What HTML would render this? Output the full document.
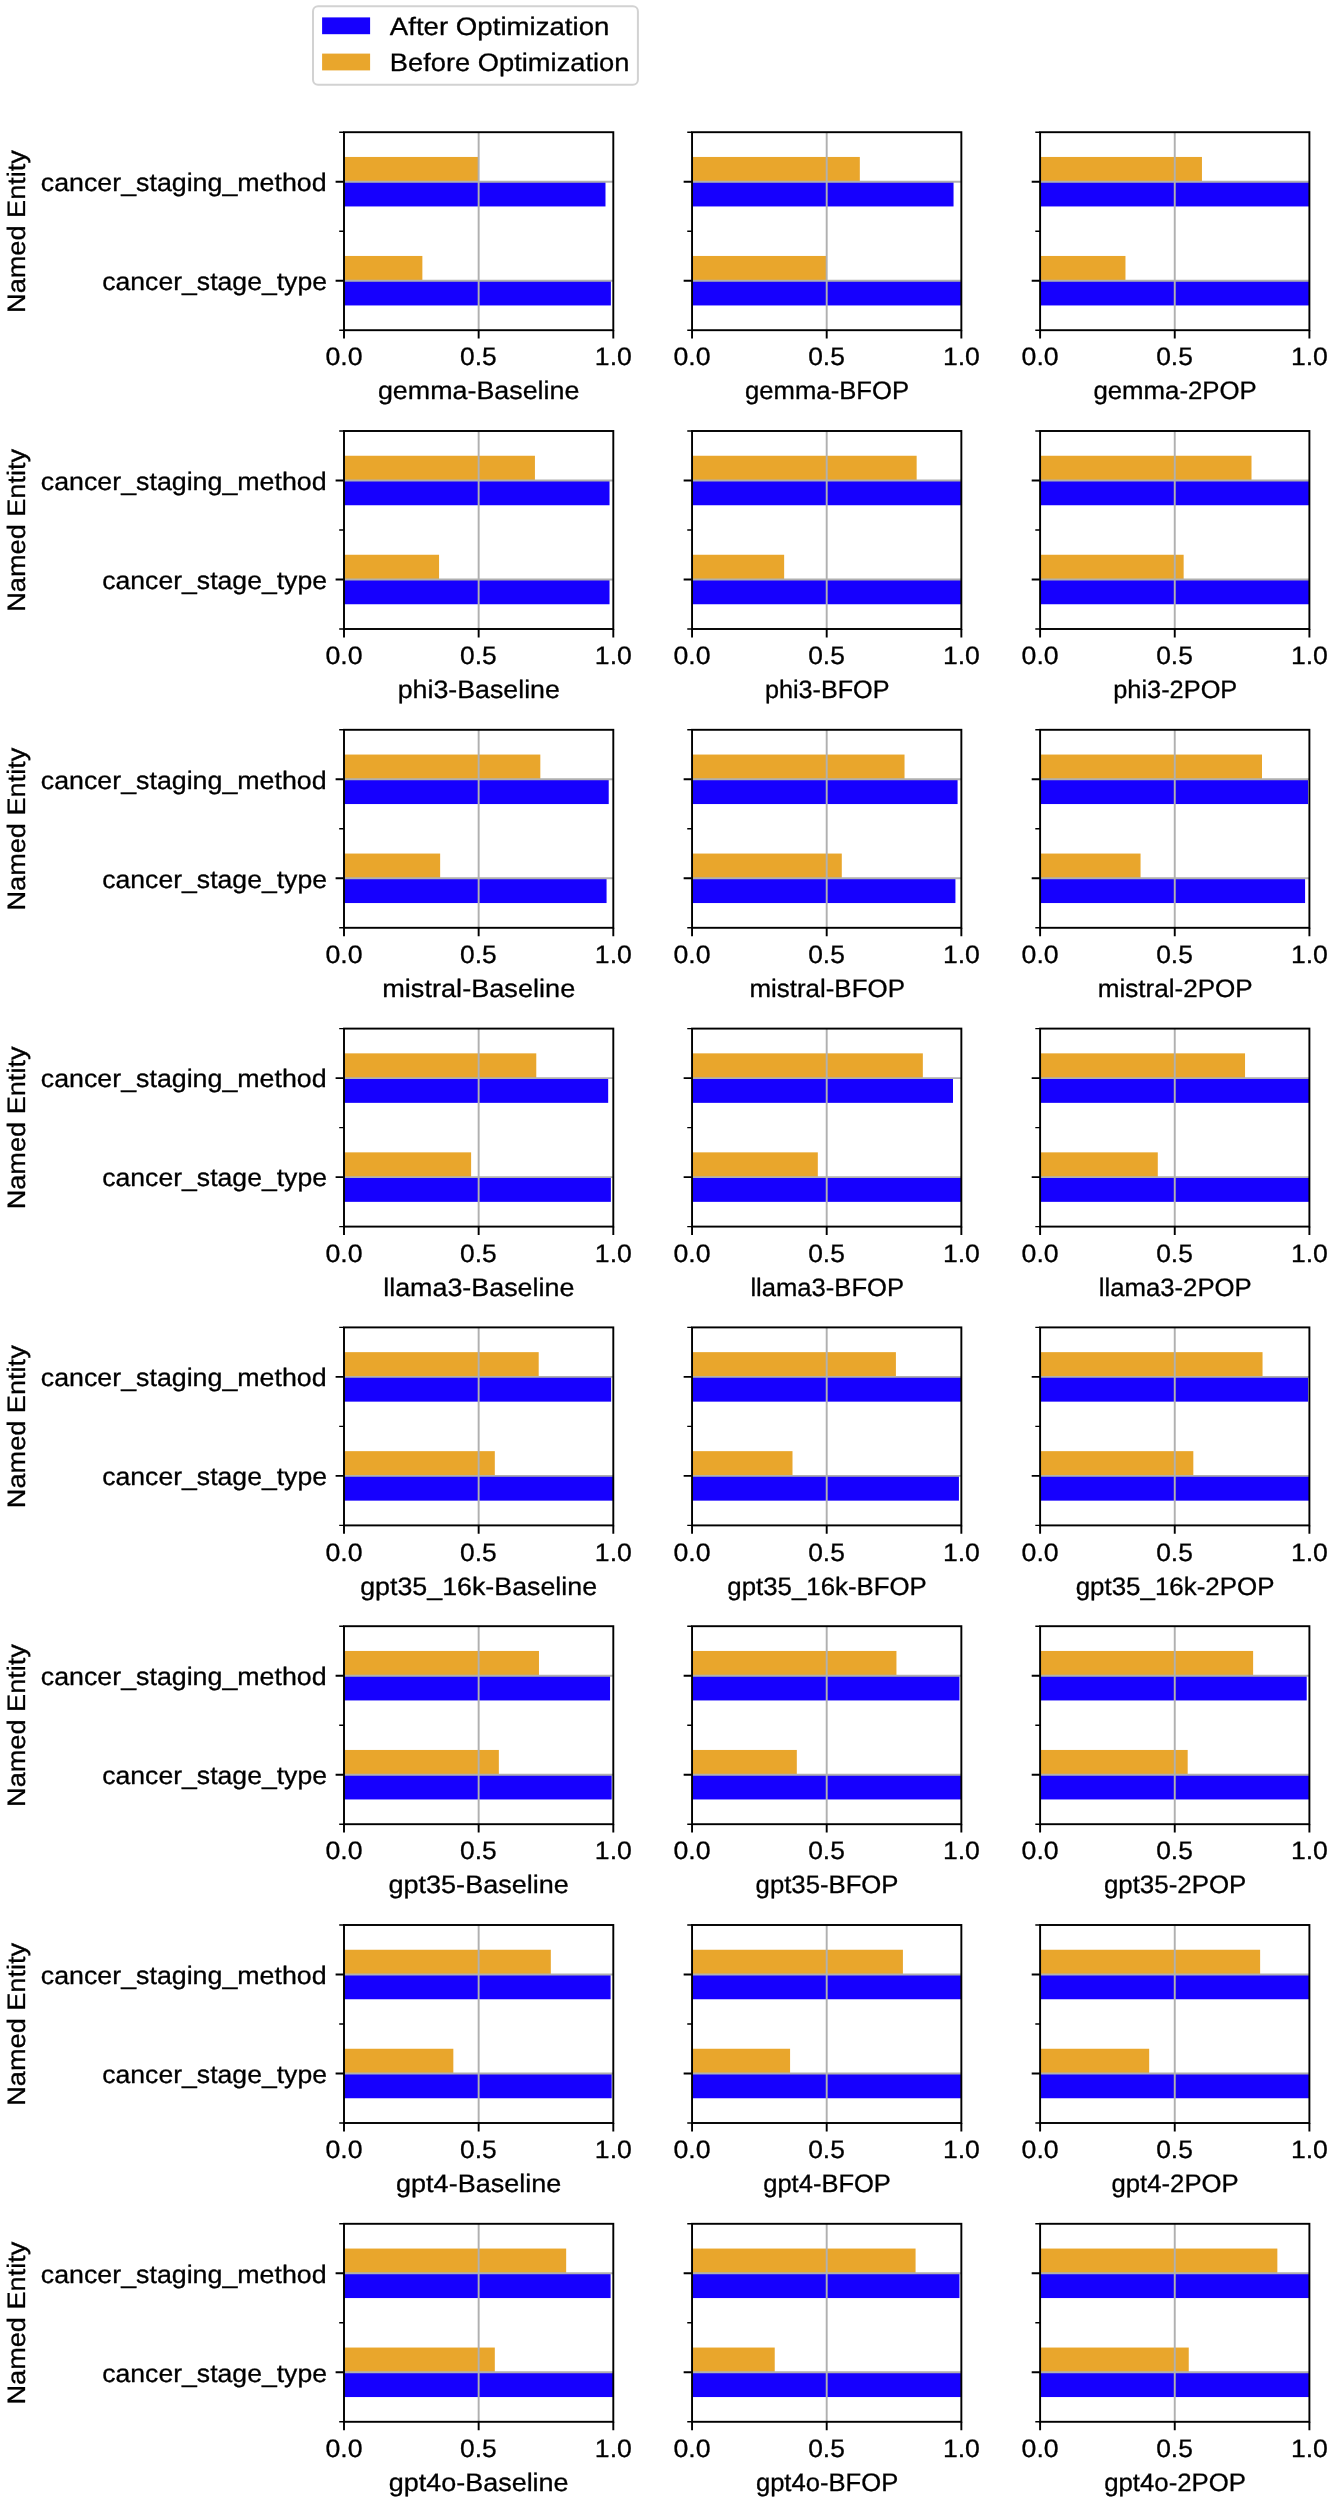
<!DOCTYPE html>
<html><head><meta charset="utf-8"><title>chart</title>
<style>
html,body{margin:0;padding:0;background:#fff;}
body{width:1333px;height:2500px;overflow:hidden;}
svg{display:block;will-change:transform;}
text{font-family:"Liberation Sans",sans-serif;font-size:25.2px;fill:#000;stroke:#000;stroke-width:0.3px;stroke-linejoin:round;text-rendering:geometricPrecision;}
</style></head>
<body>
<svg width="1333" height="2500" viewBox="0 0 1333 2500">
<rect width="1333" height="2500" fill="#fff"/>
<rect x="313.0" y="6.2" width="324.9" height="78.5" rx="5" ry="5" fill="#fff" stroke="#d2d2d2" stroke-width="2.0"/>
<rect x="322.1" y="17.4" width="48.0" height="16.8" fill="#1600fe"/>
<rect x="322.1" y="53.6" width="48.0" height="16.8" fill="#e9a62c"/>
<rect x="344.00" y="156.95" width="134.65" height="24.75" fill="#e9a62c"/>
<rect x="344.00" y="181.70" width="261.49" height="24.75" fill="#1600fe"/>
<rect x="344.00" y="255.95" width="78.37" height="24.75" fill="#e9a62c"/>
<rect x="344.00" y="280.70" width="266.88" height="24.75" fill="#1600fe"/>
<path d="M478.65 132.20V330.20M344.00 181.70H613.30M344.00 280.70H613.30" stroke="#b0b0b0" stroke-width="1.92" fill="none"/>
<path d="M344.00 330.20v8.4M478.65 330.20v8.4M613.30 330.20v8.4M344.00 181.70h-8.4M344.00 280.70h-8.4" stroke="#000" stroke-width="1.92" fill="none" stroke-linecap="butt"/>
<path d="M344.00 132.20h-4.8M344.00 231.20h-4.8M344.00 330.20h-4.8" stroke="#000" stroke-width="1.44" fill="none"/>
<rect x="344.00" y="132.20" width="269.30" height="198.00" fill="none" stroke="#000" stroke-width="1.92" stroke-linejoin="miter"/>
<rect x="692.05" y="156.95" width="167.77" height="24.75" fill="#e9a62c"/>
<rect x="692.05" y="181.70" width="261.49" height="24.75" fill="#1600fe"/>
<rect x="692.05" y="255.95" width="134.65" height="24.75" fill="#e9a62c"/>
<rect x="692.05" y="280.70" width="269.30" height="24.75" fill="#1600fe"/>
<path d="M826.70 132.20V330.20M692.05 181.70H961.35M692.05 280.70H961.35" stroke="#b0b0b0" stroke-width="1.92" fill="none"/>
<path d="M692.05 330.20v8.4M826.70 330.20v8.4M961.35 330.20v8.4M692.05 181.70h-8.4M692.05 280.70h-8.4" stroke="#000" stroke-width="1.92" fill="none" stroke-linecap="butt"/>
<path d="M692.05 132.20h-4.8M692.05 231.20h-4.8M692.05 330.20h-4.8" stroke="#000" stroke-width="1.44" fill="none"/>
<rect x="692.05" y="132.20" width="269.30" height="198.00" fill="none" stroke="#000" stroke-width="1.92" stroke-linejoin="miter"/>
<rect x="1040.10" y="156.95" width="161.85" height="24.75" fill="#e9a62c"/>
<rect x="1040.10" y="181.70" width="269.30" height="24.75" fill="#1600fe"/>
<rect x="1040.10" y="255.95" width="85.37" height="24.75" fill="#e9a62c"/>
<rect x="1040.10" y="280.70" width="269.30" height="24.75" fill="#1600fe"/>
<path d="M1174.75 132.20V330.20M1040.10 181.70H1309.40M1040.10 280.70H1309.40" stroke="#b0b0b0" stroke-width="1.92" fill="none"/>
<path d="M1040.10 330.20v8.4M1174.75 330.20v8.4M1309.40 330.20v8.4M1040.10 181.70h-8.4M1040.10 280.70h-8.4" stroke="#000" stroke-width="1.92" fill="none" stroke-linecap="butt"/>
<path d="M1040.10 132.20h-4.8M1040.10 231.20h-4.8M1040.10 330.20h-4.8" stroke="#000" stroke-width="1.44" fill="none"/>
<rect x="1040.10" y="132.20" width="269.30" height="198.00" fill="none" stroke="#000" stroke-width="1.92" stroke-linejoin="miter"/>
<rect x="344.00" y="455.75" width="190.93" height="24.75" fill="#e9a62c"/>
<rect x="344.00" y="480.50" width="265.53" height="24.75" fill="#1600fe"/>
<rect x="344.00" y="554.75" width="95.06" height="24.75" fill="#e9a62c"/>
<rect x="344.00" y="579.50" width="265.53" height="24.75" fill="#1600fe"/>
<path d="M478.65 431.00V629.00M344.00 480.50H613.30M344.00 579.50H613.30" stroke="#b0b0b0" stroke-width="1.92" fill="none"/>
<path d="M344.00 629.00v8.4M478.65 629.00v8.4M613.30 629.00v8.4M344.00 480.50h-8.4M344.00 579.50h-8.4" stroke="#000" stroke-width="1.92" fill="none" stroke-linecap="butt"/>
<path d="M344.00 431.00h-4.8M344.00 530.00h-4.8M344.00 629.00h-4.8" stroke="#000" stroke-width="1.44" fill="none"/>
<rect x="344.00" y="431.00" width="269.30" height="198.00" fill="none" stroke="#000" stroke-width="1.92" stroke-linejoin="miter"/>
<rect x="692.05" y="455.75" width="224.60" height="24.75" fill="#e9a62c"/>
<rect x="692.05" y="480.50" width="269.30" height="24.75" fill="#1600fe"/>
<rect x="692.05" y="554.75" width="92.10" height="24.75" fill="#e9a62c"/>
<rect x="692.05" y="579.50" width="269.30" height="24.75" fill="#1600fe"/>
<path d="M826.70 431.00V629.00M692.05 480.50H961.35M692.05 579.50H961.35" stroke="#b0b0b0" stroke-width="1.92" fill="none"/>
<path d="M692.05 629.00v8.4M826.70 629.00v8.4M961.35 629.00v8.4M692.05 480.50h-8.4M692.05 579.50h-8.4" stroke="#000" stroke-width="1.92" fill="none" stroke-linecap="butt"/>
<path d="M692.05 431.00h-4.8M692.05 530.00h-4.8M692.05 629.00h-4.8" stroke="#000" stroke-width="1.44" fill="none"/>
<rect x="692.05" y="431.00" width="269.30" height="198.00" fill="none" stroke="#000" stroke-width="1.92" stroke-linejoin="miter"/>
<rect x="1040.10" y="455.75" width="211.40" height="24.75" fill="#e9a62c"/>
<rect x="1040.10" y="480.50" width="269.30" height="24.75" fill="#1600fe"/>
<rect x="1040.10" y="554.75" width="143.54" height="24.75" fill="#e9a62c"/>
<rect x="1040.10" y="579.50" width="269.30" height="24.75" fill="#1600fe"/>
<path d="M1174.75 431.00V629.00M1040.10 480.50H1309.40M1040.10 579.50H1309.40" stroke="#b0b0b0" stroke-width="1.92" fill="none"/>
<path d="M1040.10 629.00v8.4M1174.75 629.00v8.4M1309.40 629.00v8.4M1040.10 480.50h-8.4M1040.10 579.50h-8.4" stroke="#000" stroke-width="1.92" fill="none" stroke-linecap="butt"/>
<path d="M1040.10 431.00h-4.8M1040.10 530.00h-4.8M1040.10 629.00h-4.8" stroke="#000" stroke-width="1.44" fill="none"/>
<rect x="1040.10" y="431.00" width="269.30" height="198.00" fill="none" stroke="#000" stroke-width="1.92" stroke-linejoin="miter"/>
<rect x="344.00" y="754.55" width="196.32" height="24.75" fill="#e9a62c"/>
<rect x="344.00" y="779.30" width="264.72" height="24.75" fill="#1600fe"/>
<rect x="344.00" y="853.55" width="96.14" height="24.75" fill="#e9a62c"/>
<rect x="344.00" y="878.30" width="262.57" height="24.75" fill="#1600fe"/>
<path d="M478.65 729.80V927.80M344.00 779.30H613.30M344.00 878.30H613.30" stroke="#b0b0b0" stroke-width="1.92" fill="none"/>
<path d="M344.00 927.80v8.4M478.65 927.80v8.4M613.30 927.80v8.4M344.00 779.30h-8.4M344.00 878.30h-8.4" stroke="#000" stroke-width="1.92" fill="none" stroke-linecap="butt"/>
<path d="M344.00 729.80h-4.8M344.00 828.80h-4.8M344.00 927.80h-4.8" stroke="#000" stroke-width="1.44" fill="none"/>
<rect x="344.00" y="729.80" width="269.30" height="198.00" fill="none" stroke="#000" stroke-width="1.92" stroke-linejoin="miter"/>
<rect x="692.05" y="754.55" width="212.48" height="24.75" fill="#e9a62c"/>
<rect x="692.05" y="779.30" width="265.53" height="24.75" fill="#1600fe"/>
<rect x="692.05" y="853.55" width="149.73" height="24.75" fill="#e9a62c"/>
<rect x="692.05" y="878.30" width="263.38" height="24.75" fill="#1600fe"/>
<path d="M826.70 729.80V927.80M692.05 779.30H961.35M692.05 878.30H961.35" stroke="#b0b0b0" stroke-width="1.92" fill="none"/>
<path d="M692.05 927.80v8.4M826.70 927.80v8.4M961.35 927.80v8.4M692.05 779.30h-8.4M692.05 878.30h-8.4" stroke="#000" stroke-width="1.92" fill="none" stroke-linecap="butt"/>
<path d="M692.05 729.80h-4.8M692.05 828.80h-4.8M692.05 927.80h-4.8" stroke="#000" stroke-width="1.44" fill="none"/>
<rect x="692.05" y="729.80" width="269.30" height="198.00" fill="none" stroke="#000" stroke-width="1.92" stroke-linejoin="miter"/>
<rect x="1040.10" y="754.55" width="221.90" height="24.75" fill="#e9a62c"/>
<rect x="1040.10" y="779.30" width="267.95" height="24.75" fill="#1600fe"/>
<rect x="1040.10" y="853.55" width="100.45" height="24.75" fill="#e9a62c"/>
<rect x="1040.10" y="878.30" width="264.99" height="24.75" fill="#1600fe"/>
<path d="M1174.75 729.80V927.80M1040.10 779.30H1309.40M1040.10 878.30H1309.40" stroke="#b0b0b0" stroke-width="1.92" fill="none"/>
<path d="M1040.10 927.80v8.4M1174.75 927.80v8.4M1309.40 927.80v8.4M1040.10 779.30h-8.4M1040.10 878.30h-8.4" stroke="#000" stroke-width="1.92" fill="none" stroke-linecap="butt"/>
<path d="M1040.10 729.80h-4.8M1040.10 828.80h-4.8M1040.10 927.80h-4.8" stroke="#000" stroke-width="1.44" fill="none"/>
<rect x="1040.10" y="729.80" width="269.30" height="198.00" fill="none" stroke="#000" stroke-width="1.92" stroke-linejoin="miter"/>
<rect x="344.00" y="1053.35" width="192.28" height="24.75" fill="#e9a62c"/>
<rect x="344.00" y="1078.10" width="264.18" height="24.75" fill="#1600fe"/>
<rect x="344.00" y="1152.35" width="127.11" height="24.75" fill="#e9a62c"/>
<rect x="344.00" y="1177.10" width="266.88" height="24.75" fill="#1600fe"/>
<path d="M478.65 1028.60V1226.60M344.00 1078.10H613.30M344.00 1177.10H613.30" stroke="#b0b0b0" stroke-width="1.92" fill="none"/>
<path d="M344.00 1226.60v8.4M478.65 1226.60v8.4M613.30 1226.60v8.4M344.00 1078.10h-8.4M344.00 1177.10h-8.4" stroke="#000" stroke-width="1.92" fill="none" stroke-linecap="butt"/>
<path d="M344.00 1028.60h-4.8M344.00 1127.60h-4.8M344.00 1226.60h-4.8" stroke="#000" stroke-width="1.44" fill="none"/>
<rect x="344.00" y="1028.60" width="269.30" height="198.00" fill="none" stroke="#000" stroke-width="1.92" stroke-linejoin="miter"/>
<rect x="692.05" y="1053.35" width="230.79" height="24.75" fill="#e9a62c"/>
<rect x="692.05" y="1078.10" width="260.95" height="24.75" fill="#1600fe"/>
<rect x="692.05" y="1152.35" width="125.76" height="24.75" fill="#e9a62c"/>
<rect x="692.05" y="1177.10" width="269.30" height="24.75" fill="#1600fe"/>
<path d="M826.70 1028.60V1226.60M692.05 1078.10H961.35M692.05 1177.10H961.35" stroke="#b0b0b0" stroke-width="1.92" fill="none"/>
<path d="M692.05 1226.60v8.4M826.70 1226.60v8.4M961.35 1226.60v8.4M692.05 1078.10h-8.4M692.05 1177.10h-8.4" stroke="#000" stroke-width="1.92" fill="none" stroke-linecap="butt"/>
<path d="M692.05 1028.60h-4.8M692.05 1127.60h-4.8M692.05 1226.60h-4.8" stroke="#000" stroke-width="1.44" fill="none"/>
<rect x="692.05" y="1028.60" width="269.30" height="198.00" fill="none" stroke="#000" stroke-width="1.92" stroke-linejoin="miter"/>
<rect x="1040.10" y="1053.35" width="204.94" height="24.75" fill="#e9a62c"/>
<rect x="1040.10" y="1078.10" width="269.30" height="24.75" fill="#1600fe"/>
<rect x="1040.10" y="1152.35" width="117.68" height="24.75" fill="#e9a62c"/>
<rect x="1040.10" y="1177.10" width="269.30" height="24.75" fill="#1600fe"/>
<path d="M1174.75 1028.60V1226.60M1040.10 1078.10H1309.40M1040.10 1177.10H1309.40" stroke="#b0b0b0" stroke-width="1.92" fill="none"/>
<path d="M1040.10 1226.60v8.4M1174.75 1226.60v8.4M1309.40 1226.60v8.4M1040.10 1078.10h-8.4M1040.10 1177.10h-8.4" stroke="#000" stroke-width="1.92" fill="none" stroke-linecap="butt"/>
<path d="M1040.10 1028.60h-4.8M1040.10 1127.60h-4.8M1040.10 1226.60h-4.8" stroke="#000" stroke-width="1.44" fill="none"/>
<rect x="1040.10" y="1028.60" width="269.30" height="198.00" fill="none" stroke="#000" stroke-width="1.92" stroke-linejoin="miter"/>
<rect x="344.00" y="1352.15" width="194.70" height="24.75" fill="#e9a62c"/>
<rect x="344.00" y="1376.90" width="267.15" height="24.75" fill="#1600fe"/>
<rect x="344.00" y="1451.15" width="150.81" height="24.75" fill="#e9a62c"/>
<rect x="344.00" y="1475.90" width="269.30" height="24.75" fill="#1600fe"/>
<path d="M478.65 1327.40V1525.40M344.00 1376.90H613.30M344.00 1475.90H613.30" stroke="#b0b0b0" stroke-width="1.92" fill="none"/>
<path d="M344.00 1525.40v8.4M478.65 1525.40v8.4M613.30 1525.40v8.4M344.00 1376.90h-8.4M344.00 1475.90h-8.4" stroke="#000" stroke-width="1.92" fill="none" stroke-linecap="butt"/>
<path d="M344.00 1327.40h-4.8M344.00 1426.40h-4.8M344.00 1525.40h-4.8" stroke="#000" stroke-width="1.44" fill="none"/>
<rect x="344.00" y="1327.40" width="269.30" height="198.00" fill="none" stroke="#000" stroke-width="1.92" stroke-linejoin="miter"/>
<rect x="692.05" y="1352.15" width="203.86" height="24.75" fill="#e9a62c"/>
<rect x="692.05" y="1376.90" width="269.30" height="24.75" fill="#1600fe"/>
<rect x="692.05" y="1451.15" width="100.45" height="24.75" fill="#e9a62c"/>
<rect x="692.05" y="1475.90" width="266.88" height="24.75" fill="#1600fe"/>
<path d="M826.70 1327.40V1525.40M692.05 1376.90H961.35M692.05 1475.90H961.35" stroke="#b0b0b0" stroke-width="1.92" fill="none"/>
<path d="M692.05 1525.40v8.4M826.70 1525.40v8.4M961.35 1525.40v8.4M692.05 1376.90h-8.4M692.05 1475.90h-8.4" stroke="#000" stroke-width="1.92" fill="none" stroke-linecap="butt"/>
<path d="M692.05 1327.40h-4.8M692.05 1426.40h-4.8M692.05 1525.40h-4.8" stroke="#000" stroke-width="1.44" fill="none"/>
<rect x="692.05" y="1327.40" width="269.30" height="198.00" fill="none" stroke="#000" stroke-width="1.92" stroke-linejoin="miter"/>
<rect x="1040.10" y="1352.15" width="222.44" height="24.75" fill="#e9a62c"/>
<rect x="1040.10" y="1376.90" width="267.95" height="24.75" fill="#1600fe"/>
<rect x="1040.10" y="1451.15" width="153.23" height="24.75" fill="#e9a62c"/>
<rect x="1040.10" y="1475.90" width="269.30" height="24.75" fill="#1600fe"/>
<path d="M1174.75 1327.40V1525.40M1040.10 1376.90H1309.40M1040.10 1475.90H1309.40" stroke="#b0b0b0" stroke-width="1.92" fill="none"/>
<path d="M1040.10 1525.40v8.4M1174.75 1525.40v8.4M1309.40 1525.40v8.4M1040.10 1376.90h-8.4M1040.10 1475.90h-8.4" stroke="#000" stroke-width="1.92" fill="none" stroke-linecap="butt"/>
<path d="M1040.10 1327.40h-4.8M1040.10 1426.40h-4.8M1040.10 1525.40h-4.8" stroke="#000" stroke-width="1.44" fill="none"/>
<rect x="1040.10" y="1327.40" width="269.30" height="198.00" fill="none" stroke="#000" stroke-width="1.92" stroke-linejoin="miter"/>
<rect x="344.00" y="1650.95" width="194.97" height="24.75" fill="#e9a62c"/>
<rect x="344.00" y="1675.70" width="266.07" height="24.75" fill="#1600fe"/>
<rect x="344.00" y="1749.95" width="154.85" height="24.75" fill="#e9a62c"/>
<rect x="344.00" y="1774.70" width="267.68" height="24.75" fill="#1600fe"/>
<path d="M478.65 1626.20V1824.20M344.00 1675.70H613.30M344.00 1774.70H613.30" stroke="#b0b0b0" stroke-width="1.92" fill="none"/>
<path d="M344.00 1824.20v8.4M478.65 1824.20v8.4M613.30 1824.20v8.4M344.00 1675.70h-8.4M344.00 1774.70h-8.4" stroke="#000" stroke-width="1.92" fill="none" stroke-linecap="butt"/>
<path d="M344.00 1626.20h-4.8M344.00 1725.20h-4.8M344.00 1824.20h-4.8" stroke="#000" stroke-width="1.44" fill="none"/>
<rect x="344.00" y="1626.20" width="269.30" height="198.00" fill="none" stroke="#000" stroke-width="1.92" stroke-linejoin="miter"/>
<rect x="692.05" y="1650.95" width="204.40" height="24.75" fill="#e9a62c"/>
<rect x="692.05" y="1675.70" width="267.41" height="24.75" fill="#1600fe"/>
<rect x="692.05" y="1749.95" width="104.76" height="24.75" fill="#e9a62c"/>
<rect x="692.05" y="1774.70" width="269.30" height="24.75" fill="#1600fe"/>
<path d="M826.70 1626.20V1824.20M692.05 1675.70H961.35M692.05 1774.70H961.35" stroke="#b0b0b0" stroke-width="1.92" fill="none"/>
<path d="M692.05 1824.20v8.4M826.70 1824.20v8.4M961.35 1824.20v8.4M692.05 1675.70h-8.4M692.05 1774.70h-8.4" stroke="#000" stroke-width="1.92" fill="none" stroke-linecap="butt"/>
<path d="M692.05 1626.20h-4.8M692.05 1725.20h-4.8M692.05 1824.20h-4.8" stroke="#000" stroke-width="1.44" fill="none"/>
<rect x="692.05" y="1626.20" width="269.30" height="198.00" fill="none" stroke="#000" stroke-width="1.92" stroke-linejoin="miter"/>
<rect x="1040.10" y="1650.95" width="213.02" height="24.75" fill="#e9a62c"/>
<rect x="1040.10" y="1675.70" width="266.61" height="24.75" fill="#1600fe"/>
<rect x="1040.10" y="1749.95" width="147.58" height="24.75" fill="#e9a62c"/>
<rect x="1040.10" y="1774.70" width="269.30" height="24.75" fill="#1600fe"/>
<path d="M1174.75 1626.20V1824.20M1040.10 1675.70H1309.40M1040.10 1774.70H1309.40" stroke="#b0b0b0" stroke-width="1.92" fill="none"/>
<path d="M1040.10 1824.20v8.4M1174.75 1824.20v8.4M1309.40 1824.20v8.4M1040.10 1675.70h-8.4M1040.10 1774.70h-8.4" stroke="#000" stroke-width="1.92" fill="none" stroke-linecap="butt"/>
<path d="M1040.10 1626.20h-4.8M1040.10 1725.20h-4.8M1040.10 1824.20h-4.8" stroke="#000" stroke-width="1.44" fill="none"/>
<rect x="1040.10" y="1626.20" width="269.30" height="198.00" fill="none" stroke="#000" stroke-width="1.92" stroke-linejoin="miter"/>
<rect x="344.00" y="1949.75" width="206.82" height="24.75" fill="#e9a62c"/>
<rect x="344.00" y="1974.50" width="266.61" height="24.75" fill="#1600fe"/>
<rect x="344.00" y="2048.75" width="109.34" height="24.75" fill="#e9a62c"/>
<rect x="344.00" y="2073.50" width="267.68" height="24.75" fill="#1600fe"/>
<path d="M478.65 1925.00V2123.00M344.00 1974.50H613.30M344.00 2073.50H613.30" stroke="#b0b0b0" stroke-width="1.92" fill="none"/>
<path d="M344.00 2123.00v8.4M478.65 2123.00v8.4M613.30 2123.00v8.4M344.00 1974.50h-8.4M344.00 2073.50h-8.4" stroke="#000" stroke-width="1.92" fill="none" stroke-linecap="butt"/>
<path d="M344.00 1925.00h-4.8M344.00 2024.00h-4.8M344.00 2123.00h-4.8" stroke="#000" stroke-width="1.44" fill="none"/>
<rect x="344.00" y="1925.00" width="269.30" height="198.00" fill="none" stroke="#000" stroke-width="1.92" stroke-linejoin="miter"/>
<rect x="692.05" y="1949.75" width="210.86" height="24.75" fill="#e9a62c"/>
<rect x="692.05" y="1974.50" width="269.30" height="24.75" fill="#1600fe"/>
<rect x="692.05" y="2048.75" width="98.03" height="24.75" fill="#e9a62c"/>
<rect x="692.05" y="2073.50" width="269.30" height="24.75" fill="#1600fe"/>
<path d="M826.70 1925.00V2123.00M692.05 1974.50H961.35M692.05 2073.50H961.35" stroke="#b0b0b0" stroke-width="1.92" fill="none"/>
<path d="M692.05 2123.00v8.4M826.70 2123.00v8.4M961.35 2123.00v8.4M692.05 1974.50h-8.4M692.05 2073.50h-8.4" stroke="#000" stroke-width="1.92" fill="none" stroke-linecap="butt"/>
<path d="M692.05 1925.00h-4.8M692.05 2024.00h-4.8M692.05 2123.00h-4.8" stroke="#000" stroke-width="1.44" fill="none"/>
<rect x="692.05" y="1925.00" width="269.30" height="198.00" fill="none" stroke="#000" stroke-width="1.92" stroke-linejoin="miter"/>
<rect x="1040.10" y="1949.75" width="220.02" height="24.75" fill="#e9a62c"/>
<rect x="1040.10" y="1974.50" width="269.30" height="24.75" fill="#1600fe"/>
<rect x="1040.10" y="2048.75" width="109.07" height="24.75" fill="#e9a62c"/>
<rect x="1040.10" y="2073.50" width="269.30" height="24.75" fill="#1600fe"/>
<path d="M1174.75 1925.00V2123.00M1040.10 1974.50H1309.40M1040.10 2073.50H1309.40" stroke="#b0b0b0" stroke-width="1.92" fill="none"/>
<path d="M1040.10 2123.00v8.4M1174.75 2123.00v8.4M1309.40 2123.00v8.4M1040.10 1974.50h-8.4M1040.10 2073.50h-8.4" stroke="#000" stroke-width="1.92" fill="none" stroke-linecap="butt"/>
<path d="M1040.10 1925.00h-4.8M1040.10 2024.00h-4.8M1040.10 2123.00h-4.8" stroke="#000" stroke-width="1.44" fill="none"/>
<rect x="1040.10" y="1925.00" width="269.30" height="198.00" fill="none" stroke="#000" stroke-width="1.92" stroke-linejoin="miter"/>
<rect x="344.00" y="2248.55" width="222.17" height="24.75" fill="#e9a62c"/>
<rect x="344.00" y="2273.30" width="266.61" height="24.75" fill="#1600fe"/>
<rect x="344.00" y="2347.55" width="150.81" height="24.75" fill="#e9a62c"/>
<rect x="344.00" y="2372.30" width="269.30" height="24.75" fill="#1600fe"/>
<path d="M478.65 2223.80V2421.80M344.00 2273.30H613.30M344.00 2372.30H613.30" stroke="#b0b0b0" stroke-width="1.92" fill="none"/>
<path d="M344.00 2421.80v8.4M478.65 2421.80v8.4M613.30 2421.80v8.4M344.00 2273.30h-8.4M344.00 2372.30h-8.4" stroke="#000" stroke-width="1.92" fill="none" stroke-linecap="butt"/>
<path d="M344.00 2223.80h-4.8M344.00 2322.80h-4.8M344.00 2421.80h-4.8" stroke="#000" stroke-width="1.44" fill="none"/>
<rect x="344.00" y="2223.80" width="269.30" height="198.00" fill="none" stroke="#000" stroke-width="1.92" stroke-linejoin="miter"/>
<rect x="692.05" y="2248.55" width="223.52" height="24.75" fill="#e9a62c"/>
<rect x="692.05" y="2273.30" width="267.41" height="24.75" fill="#1600fe"/>
<rect x="692.05" y="2347.55" width="82.68" height="24.75" fill="#e9a62c"/>
<rect x="692.05" y="2372.30" width="269.30" height="24.75" fill="#1600fe"/>
<path d="M826.70 2223.80V2421.80M692.05 2273.30H961.35M692.05 2372.30H961.35" stroke="#b0b0b0" stroke-width="1.92" fill="none"/>
<path d="M692.05 2421.80v8.4M826.70 2421.80v8.4M961.35 2421.80v8.4M692.05 2273.30h-8.4M692.05 2372.30h-8.4" stroke="#000" stroke-width="1.92" fill="none" stroke-linecap="butt"/>
<path d="M692.05 2223.80h-4.8M692.05 2322.80h-4.8M692.05 2421.80h-4.8" stroke="#000" stroke-width="1.44" fill="none"/>
<rect x="692.05" y="2223.80" width="269.30" height="198.00" fill="none" stroke="#000" stroke-width="1.92" stroke-linejoin="miter"/>
<rect x="1040.10" y="2248.55" width="237.25" height="24.75" fill="#e9a62c"/>
<rect x="1040.10" y="2273.30" width="269.30" height="24.75" fill="#1600fe"/>
<rect x="1040.10" y="2347.55" width="148.65" height="24.75" fill="#e9a62c"/>
<rect x="1040.10" y="2372.30" width="269.30" height="24.75" fill="#1600fe"/>
<path d="M1174.75 2223.80V2421.80M1040.10 2273.30H1309.40M1040.10 2372.30H1309.40" stroke="#b0b0b0" stroke-width="1.92" fill="none"/>
<path d="M1040.10 2421.80v8.4M1174.75 2421.80v8.4M1309.40 2421.80v8.4M1040.10 2273.30h-8.4M1040.10 2372.30h-8.4" stroke="#000" stroke-width="1.92" fill="none" stroke-linecap="butt"/>
<path d="M1040.10 2223.80h-4.8M1040.10 2322.80h-4.8M1040.10 2421.80h-4.8" stroke="#000" stroke-width="1.44" fill="none"/>
<rect x="1040.10" y="2223.80" width="269.30" height="198.00" fill="none" stroke="#000" stroke-width="1.92" stroke-linejoin="miter"/>
<text transform="translate(389.83,34.90) scale(1.0970,1)">After Optimization</text>
<text transform="translate(389.82,70.70) scale(1.0835,1)">Before Optimization</text>
<text transform="translate(325.46,365.30) scale(1.0584,1)">0.0</text>
<text transform="translate(460.12,365.30) scale(1.0455,1)">0.5</text>
<text transform="translate(594.83,365.30) scale(1.0563,1)">1.0</text>
<text transform="translate(377.91,399.30) scale(1.0662,1)">gemma-Baseline</text>
<text transform="translate(40.79,190.90) scale(1.0631,1)">cancer_staging_method</text>
<text transform="translate(102.22,289.90) scale(1.0561,1)">cancer_stage_type</text>
<text transform="translate(25.30,231.20) rotate(-90) translate(-81.74,0) scale(1.0772,1)">Named Entity</text>
<text transform="translate(673.51,365.30) scale(1.0584,1)">0.0</text>
<text transform="translate(808.17,365.30) scale(1.0455,1)">0.5</text>
<text transform="translate(942.88,365.30) scale(1.0563,1)">1.0</text>
<text transform="translate(745.07,399.30) scale(1.0187,1)">gemma-BFOP</text>
<text transform="translate(1021.56,365.30) scale(1.0584,1)">0.0</text>
<text transform="translate(1156.22,365.30) scale(1.0455,1)">0.5</text>
<text transform="translate(1290.93,365.30) scale(1.0563,1)">1.0</text>
<text transform="translate(1093.38,399.30) scale(1.0243,1)">gemma-2POP</text>
<text transform="translate(325.46,664.10) scale(1.0584,1)">0.0</text>
<text transform="translate(460.12,664.10) scale(1.0455,1)">0.5</text>
<text transform="translate(594.83,664.10) scale(1.0563,1)">1.0</text>
<text transform="translate(397.71,698.10) scale(1.0626,1)">phi3-Baseline</text>
<text transform="translate(40.79,489.70) scale(1.0631,1)">cancer_staging_method</text>
<text transform="translate(102.22,588.70) scale(1.0561,1)">cancer_stage_type</text>
<text transform="translate(25.30,530.00) rotate(-90) translate(-81.74,0) scale(1.0772,1)">Named Entity</text>
<text transform="translate(673.51,664.10) scale(1.0584,1)">0.0</text>
<text transform="translate(808.17,664.10) scale(1.0455,1)">0.5</text>
<text transform="translate(942.88,664.10) scale(1.0563,1)">1.0</text>
<text transform="translate(764.92,698.10) scale(0.9999,1)">phi3-BFOP</text>
<text transform="translate(1021.56,664.10) scale(1.0584,1)">0.0</text>
<text transform="translate(1156.22,664.10) scale(1.0455,1)">0.5</text>
<text transform="translate(1290.93,664.10) scale(1.0563,1)">1.0</text>
<text transform="translate(1113.22,698.10) scale(1.0069,1)">phi3-2POP</text>
<text transform="translate(325.46,962.90) scale(1.0584,1)">0.0</text>
<text transform="translate(460.12,962.90) scale(1.0455,1)">0.5</text>
<text transform="translate(594.83,962.90) scale(1.0563,1)">1.0</text>
<text transform="translate(382.22,996.90) scale(1.0776,1)">mistral-Baseline</text>
<text transform="translate(40.79,788.50) scale(1.0631,1)">cancer_staging_method</text>
<text transform="translate(102.22,887.50) scale(1.0561,1)">cancer_stage_type</text>
<text transform="translate(25.30,828.80) rotate(-90) translate(-81.74,0) scale(1.0772,1)">Named Entity</text>
<text transform="translate(673.51,962.90) scale(1.0584,1)">0.0</text>
<text transform="translate(808.17,962.90) scale(1.0455,1)">0.5</text>
<text transform="translate(942.88,962.90) scale(1.0563,1)">1.0</text>
<text transform="translate(749.41,996.90) scale(1.0290,1)">mistral-BFOP</text>
<text transform="translate(1021.56,962.90) scale(1.0584,1)">0.0</text>
<text transform="translate(1156.22,962.90) scale(1.0455,1)">0.5</text>
<text transform="translate(1290.93,962.90) scale(1.0563,1)">1.0</text>
<text transform="translate(1097.71,996.90) scale(1.0351,1)">mistral-2POP</text>
<text transform="translate(325.46,1261.70) scale(1.0584,1)">0.0</text>
<text transform="translate(460.12,1261.70) scale(1.0455,1)">0.5</text>
<text transform="translate(594.83,1261.70) scale(1.0563,1)">1.0</text>
<text transform="translate(383.19,1295.70) scale(1.0669,1)">llama3-Baseline</text>
<text transform="translate(40.79,1087.30) scale(1.0631,1)">cancer_staging_method</text>
<text transform="translate(102.22,1186.30) scale(1.0561,1)">cancer_stage_type</text>
<text transform="translate(25.30,1127.60) rotate(-90) translate(-81.74,0) scale(1.0772,1)">Named Entity</text>
<text transform="translate(673.51,1261.70) scale(1.0584,1)">0.0</text>
<text transform="translate(808.17,1261.70) scale(1.0455,1)">0.5</text>
<text transform="translate(942.88,1261.70) scale(1.0563,1)">1.0</text>
<text transform="translate(750.39,1295.70) scale(1.0162,1)">llama3-BFOP</text>
<text transform="translate(1021.56,1261.70) scale(1.0584,1)">0.0</text>
<text transform="translate(1156.22,1261.70) scale(1.0455,1)">0.5</text>
<text transform="translate(1290.93,1261.70) scale(1.0563,1)">1.0</text>
<text transform="translate(1098.69,1295.70) scale(1.0221,1)">llama3-2POP</text>
<text transform="translate(325.46,1560.50) scale(1.0584,1)">0.0</text>
<text transform="translate(460.12,1560.50) scale(1.0455,1)">0.5</text>
<text transform="translate(594.83,1560.50) scale(1.0563,1)">1.0</text>
<text transform="translate(360.21,1594.50) scale(1.0638,1)">gpt35_16k-Baseline</text>
<text transform="translate(40.79,1386.10) scale(1.0631,1)">cancer_staging_method</text>
<text transform="translate(102.22,1485.10) scale(1.0561,1)">cancer_stage_type</text>
<text transform="translate(25.30,1426.40) rotate(-90) translate(-81.74,0) scale(1.0772,1)">Named Entity</text>
<text transform="translate(673.51,1560.50) scale(1.0584,1)">0.0</text>
<text transform="translate(808.17,1560.50) scale(1.0455,1)">0.5</text>
<text transform="translate(942.88,1560.50) scale(1.0563,1)">1.0</text>
<text transform="translate(727.37,1594.50) scale(1.0243,1)">gpt35_16k-BFOP</text>
<text transform="translate(1021.56,1560.50) scale(1.0584,1)">0.0</text>
<text transform="translate(1156.22,1560.50) scale(1.0455,1)">0.5</text>
<text transform="translate(1290.93,1560.50) scale(1.0563,1)">1.0</text>
<text transform="translate(1075.67,1594.50) scale(1.0290,1)">gpt35_16k-2POP</text>
<text transform="translate(325.46,1859.30) scale(1.0584,1)">0.0</text>
<text transform="translate(460.12,1859.30) scale(1.0455,1)">0.5</text>
<text transform="translate(594.83,1859.30) scale(1.0563,1)">1.0</text>
<text transform="translate(388.42,1893.30) scale(1.0741,1)">gpt35-Baseline</text>
<text transform="translate(40.79,1684.90) scale(1.0631,1)">cancer_staging_method</text>
<text transform="translate(102.22,1783.90) scale(1.0561,1)">cancer_stage_type</text>
<text transform="translate(25.30,1725.20) rotate(-90) translate(-81.74,0) scale(1.0772,1)">Named Entity</text>
<text transform="translate(673.51,1859.30) scale(1.0584,1)">0.0</text>
<text transform="translate(808.17,1859.30) scale(1.0455,1)">0.5</text>
<text transform="translate(942.88,1859.30) scale(1.0563,1)">1.0</text>
<text transform="translate(755.59,1893.30) scale(1.0210,1)">gpt35-BFOP</text>
<text transform="translate(1021.56,1859.30) scale(1.0584,1)">0.0</text>
<text transform="translate(1156.22,1859.30) scale(1.0455,1)">0.5</text>
<text transform="translate(1290.93,1859.30) scale(1.0563,1)">1.0</text>
<text transform="translate(1103.90,1893.30) scale(1.0274,1)">gpt35-2POP</text>
<text transform="translate(325.46,2158.10) scale(1.0584,1)">0.0</text>
<text transform="translate(460.12,2158.10) scale(1.0455,1)">0.5</text>
<text transform="translate(594.83,2158.10) scale(1.0563,1)">1.0</text>
<text transform="translate(396.06,2192.10) scale(1.0726,1)">gpt4-Baseline</text>
<text transform="translate(40.79,1983.70) scale(1.0631,1)">cancer_staging_method</text>
<text transform="translate(102.22,2082.70) scale(1.0561,1)">cancer_stage_type</text>
<text transform="translate(25.30,2024.00) rotate(-90) translate(-81.74,0) scale(1.0772,1)">Named Entity</text>
<text transform="translate(673.51,2158.10) scale(1.0584,1)">0.0</text>
<text transform="translate(808.17,2158.10) scale(1.0455,1)">0.5</text>
<text transform="translate(942.88,2158.10) scale(1.0563,1)">1.0</text>
<text transform="translate(763.23,2192.10) scale(1.0132,1)">gpt4-BFOP</text>
<text transform="translate(1021.56,2158.10) scale(1.0584,1)">0.0</text>
<text transform="translate(1156.22,2158.10) scale(1.0455,1)">0.5</text>
<text transform="translate(1290.93,2158.10) scale(1.0563,1)">1.0</text>
<text transform="translate(1111.54,2192.10) scale(1.0203,1)">gpt4-2POP</text>
<text transform="translate(325.46,2456.90) scale(1.0584,1)">0.0</text>
<text transform="translate(460.12,2456.90) scale(1.0455,1)">0.5</text>
<text transform="translate(594.83,2456.90) scale(1.0563,1)">1.0</text>
<text transform="translate(388.72,2490.90) scale(1.0705,1)">gpt4o-Baseline</text>
<text transform="translate(40.79,2282.50) scale(1.0631,1)">cancer_staging_method</text>
<text transform="translate(102.22,2381.50) scale(1.0561,1)">cancer_stage_type</text>
<text transform="translate(25.30,2322.80) rotate(-90) translate(-81.74,0) scale(1.0772,1)">Named Entity</text>
<text transform="translate(673.51,2456.90) scale(1.0584,1)">0.0</text>
<text transform="translate(808.17,2456.90) scale(1.0455,1)">0.5</text>
<text transform="translate(942.88,2456.90) scale(1.0563,1)">1.0</text>
<text transform="translate(755.89,2490.90) scale(1.0167,1)">gpt4o-BFOP</text>
<text transform="translate(1021.56,2456.90) scale(1.0584,1)">0.0</text>
<text transform="translate(1156.22,2456.90) scale(1.0455,1)">0.5</text>
<text transform="translate(1290.93,2456.90) scale(1.0563,1)">1.0</text>
<text transform="translate(1104.19,2490.90) scale(1.0231,1)">gpt4o-2POP</text>
</svg>
</body></html>
